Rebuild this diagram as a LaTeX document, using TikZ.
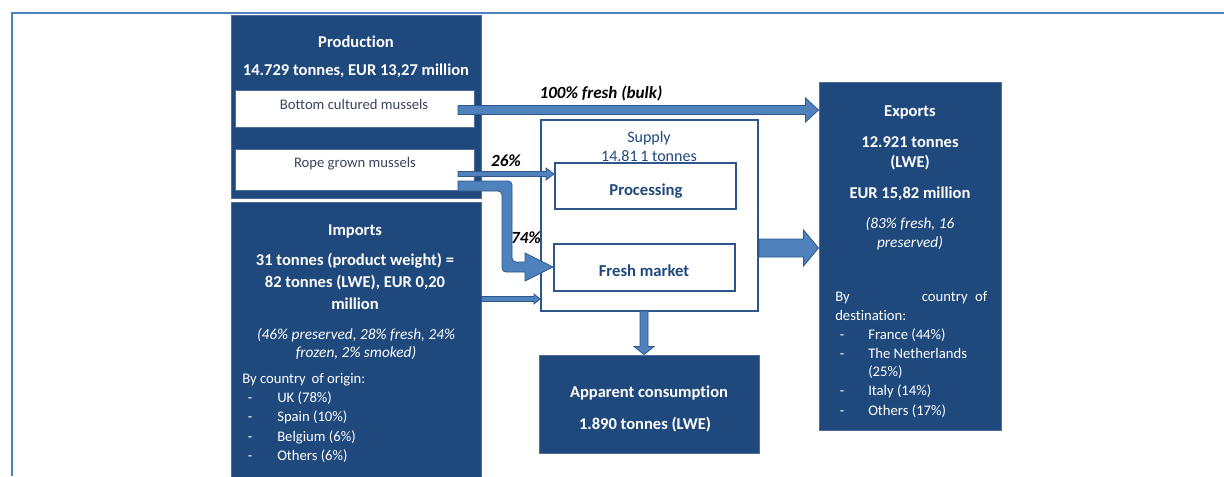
\documentclass[tikz,border=0pt]{standalone}
\usepackage{fontspec}
\setmainfont{Carlito}[Ligatures=NoCommon]
\usetikzlibrary{calc,fit}

\definecolor{navy}{RGB}{31,73,125}
\definecolor{navyedge}{RGB}{75,110,155}
\definecolor{flow}{RGB}{79,129,189}
\definecolor{flowedge}{RGB}{44,88,142}
\definecolor{frameblue}{RGB}{79,129,189}
\definecolor{boxline}{RGB}{47,86,138}
\definecolor{greytext}{RGB}{58,68,95}

% horizontal block arrow: start, end, half shaft, head length, half head
\newcommand{\flowright}[5]{%
  \filldraw[flowarrow] ($(#1)+(0,-#3)$) -- ($(#2)+(-#4,-#3)$) -- ($(#2)+(-#4,-#5)$)
    -- (#2) -- ($(#2)+(-#4,#5)$) -- ($(#2)+(-#4,#3)$) -- ($(#1)+(0,#3)$) -- cycle;}

\begin{document}
\begin{tikzpicture}[x=0.75pt,y=-0.75pt,
  darkbox/.style={draw=navyedge, fill=navy, line width=0.7pt, inner sep=0pt},
  whitebox/.style={draw=navyedge, fill=white, line width=0.6pt, inner sep=0pt},
  linebox/.style={draw=boxline, fill=white, line width=1.5pt, inner sep=0pt},
  head/.style={text=white, font=\fontsize{12.4}{14}\selectfont\bfseries, inner sep=0pt},
  body/.style={text=white, font=\fontsize{11}{13}\selectfont, inner sep=0pt,
    text height=1.5ex, text depth=0.4ex},
  note/.style={text=white, font=\fontsize{11.5}{13}\selectfont\itshape, inner sep=0pt},
  greylabel/.style={text=greytext, font=\fontsize{11}{13}\selectfont, inner sep=0pt},
  bluelabel/.style={text=navy, font=\fontsize{12.5}{14}\selectfont\bfseries, inner sep=0pt},
  share/.style={text=black, font=\fontsize{12.8}{14}\selectfont\bfseries\itshape, inner sep=0pt},
  flowarrow/.style={fill=flow, draw=flowedge, line width=0.6pt, line join=miter},
  frame/.style={draw=frameblue, line width=2.2pt}
]
\useasboundingbox (0,0) rectangle (1224,476);
\fill[white] (0,0) rectangle (1224,476);

% outer frame
\coordinate (frameTL) at (12,13);
\coordinate (frameTR) at (1224,13);
\coordinate (frameBL) at (12,476);
\draw[frame] (frameBL) -- (frameTL) -- (frameTR);

% boxes
\node[darkbox, fit={(231,15) (481,198)}] (prod) {};
\node[whitebox, fit={(235,90) (474,127)}] (bottom) {};
\node[whitebox, fit={(235,149) (474,190)}] (rope) {};
\node[darkbox, fit={(231,202) (481,480)}] (imp) {};
\node[linebox, fit={(541,120) (758,311)}] (supply) {};
\node[linebox, fit={(555,163) (736,209)}] (proc) {};
\node[linebox, fit={(554,244) (735,291)}] (fresh) {};
\node[darkbox, fit={(819,82) (1001,430)}] (exp) {};
\node[darkbox, fit={(539,355) (759,453)}] (cons) {};

% production texts
\node[head] (prodT) at (356,42) {Production};
\node[head] (prodV) at (356,71) {14.729 tonnes, EUR 13,27 million};
\node[greylabel] (bottomT) at (354,104) {Bottom cultured mussels};
\node[greylabel] (ropeT) at (355,164) {Rope grown mussels};

% import texts
\node[head] (impT) at (355,231) {Imports};
\node[head] (impV1) at (355,261) {31 tonnes (product weight) =};
\node[head] (impV2) at (355,283) {82 tonnes (LWE), EUR 0,20};
\node[head] (impV3) at (355,304) {million};
\node[note] (impN1) at (356,335) {(46\% preserved, 28\% fresh, 24\%};
\node[note] (impN2) at (356,353) {frozen, 2\% smoked)};
\node[body, anchor=west] (impBy) at (242,380) {By country\, of origin:};
\foreach \yy/\txt [count=\i] in {399/UK (78\%), 418/Spain (10\%), 438/Belgium (6\%), 457/Others (6\%)} {
  \node[body] (impD\i) at (250,\yy) {-};
  \node[body, anchor=west] (impC\i) at (277,\yy) {\txt};
}

% supply texts
\node[bluelabel, font=\fontsize{12}{14}\selectfont] (supT) at (649,138) {Supply};
\node[bluelabel, font=\fontsize{12}{14}\selectfont] (supV) at (649,156) {14.81\,1 tonnes};
\node[bluelabel] (procT) at (646,191) {Processing};
\node[bluelabel] (freshT) at (644,271) {Fresh market};

% export texts
\node[head] (expT) at (910,112) {Exports};
\node[head] (expV1) at (910,142) {12.921 tonnes};
\node[head] (expV2) at (910,163) {(LWE)};
\node[head] (expV3) at (910,194) {EUR 15,82 million};
\node[note] (expN1) at (910,224) {(83\% fresh, 16};
\node[note] (expN2) at (910,243) {preserved)};
\node[body, anchor=west, text width=152*0.75pt] (expBy) at (835,298) {By\hfill country\, of};
\node[body, anchor=west] (expDest) at (835,317) {destination:};
\foreach \yy/\txt [count=\i] in {336/France (44\%), 355/The Netherlands, 392/Italy (14\%), 412/Others (17\%)} {
  \node[body] (expD\i) at (842,\yy) {-};
  \node[body, anchor=west] (expC\i) at (868,\yy) {\txt};
}
\node[body, anchor=west] (expC2b) at (868,373) {(25\%)};

% consumption texts
\node[head] (consT) at (649,393) {Apparent consumption};
\node[head] (consV) at (645,425) {1.890 tonnes (LWE)};

% flows
\coordinate (bulkS) at (458,110);
\coordinate (bulkE) at (exp.west |- bulkS);
\flowright{bulkS}{bulkE}{4.5}{13}{12}
\node[share] (bulkL) at (601,93) {100\% fresh (bulk)};

\coordinate (procS) at (458,174);
\coordinate (procE) at (proc.west |- procS);
\flowright{procS}{procE}{2.5}{8}{6}
\node[share] (procL) at (506,161) {26\%};

\coordinate (impS) at (imp.east |- 0,299);
\coordinate (impE) at (supply.west |- impS);
\flowright{impS}{impE}{2.5}{6}{5}

\coordinate (freshS) at (458,186);
\coordinate (freshE) at (fresh.west |- 0,267);
\filldraw[flowarrow] ($(freshS)+(0,-5)$) [rounded corners=3pt] -- (512,181) -- (512,262) [sharp corners]
  -- ($(freshE)+(-28,-5)$) -- ($(freshE)+(-28,-14)$) -- (freshE) -- ($(freshE)+(-28,14)$)
  -- ($(freshE)+(-28,5)$) [rounded corners=3pt] -- (502,272) -- (502,191) [sharp corners]
  -- ($(freshS)+(0,5)$) -- cycle;
\node[share] (freshL) at (526,238) {74\%};

\coordinate (expS) at (supply.east |- 0,248);
\coordinate (expE) at (exp.west |- expS);
\flowright{expS}{expE}{9}{15}{18}

\coordinate (consS) at (644,311);
\coordinate (consE) at (consS |- cons.north);
\filldraw[flowarrow] ($(consS)+(-4,0)$) -- ($(consE)+(-4,-8)$) -- ($(consE)+(-10,-8)$) -- (consE)
  -- ($(consE)+(10,-8)$) -- ($(consE)+(4,-8)$) -- ($(consS)+(4,0)$) -- cycle;
\end{tikzpicture}
\end{document}
